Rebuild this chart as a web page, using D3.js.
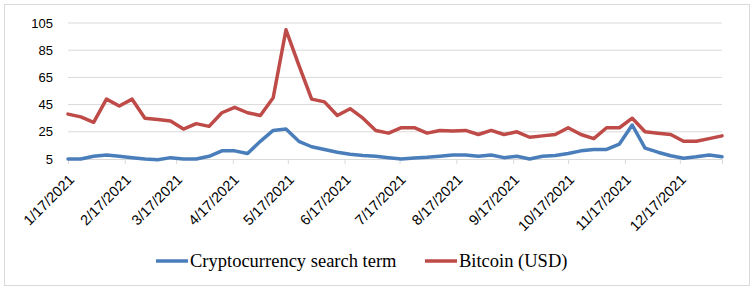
<!DOCTYPE html>
<html>
<head>
<meta charset="utf-8">
<script src="https://cdn.jsdelivr.net/npm/d3@7"></script>
<style>
  body { margin: 0; background: #fff; }
  svg { display: block; }
</style>
</head>
<body>
<svg class="canvas" width="754" height="289"></svg>
<script>
// weekly observations (Sundays)
const weeks = [
  "2021-01-17", "2021-01-24", "2021-01-31", "2021-02-07", "2021-02-14", "2021-02-21", "2021-02-28",
  "2021-03-07", "2021-03-14", "2021-03-21", "2021-03-28", "2021-04-04", "2021-04-11", "2021-04-18",
  "2021-04-25", "2021-05-02", "2021-05-09", "2021-05-16", "2021-05-23", "2021-05-30", "2021-06-06",
  "2021-06-13", "2021-06-20", "2021-06-27", "2021-07-04", "2021-07-11", "2021-07-18", "2021-07-25",
  "2021-08-01", "2021-08-08", "2021-08-15", "2021-08-22", "2021-08-29", "2021-09-05", "2021-09-12",
  "2021-09-19", "2021-09-26", "2021-10-03", "2021-10-10", "2021-10-17", "2021-10-24", "2021-10-31",
  "2021-11-07", "2021-11-14", "2021-11-21", "2021-11-28", "2021-12-05", "2021-12-12", "2021-12-19",
  "2021-12-26", "2022-01-02", "2022-01-09"
];

const searchTerm = [
  5, 5, 7, 8, 7, 6, 5, 4.5, 6, 5, 5, 7, 11, 11, 9, 18, 26, 27, 18, 14,
  12, 10, 8.5, 7.5, 7, 6, 5, 5.7, 6.2, 7, 8, 8, 7, 8, 6, 7, 5, 7, 7.5, 9,
  11, 12, 12, 16, 30, 13, 10, 7.4, 5.5, 6.6, 8, 6.6
];

const bitcoin = [
  38, 36, 32, 49, 44, 49, 35, 34, 33, 27, 31, 29, 39, 43, 39, 37, 50, 100, 74, 49,
  47, 37, 42, 35, 26, 24, 28, 28, 24, 26, 25.5, 26, 23, 26, 23, 25, 21, 22, 23, 28,
  23, 20, 28, 28, 35, 25, 24, 23, 18, 18, 20, 22
];

const yTicks = [5, 25, 45, 65, 85, 105];
const monthTicks = [
  "2021-01-17", "2021-02-17", "2021-03-17", "2021-04-17", "2021-05-17", "2021-06-17",
  "2021-07-17", "2021-08-17", "2021-09-17", "2021-10-17", "2021-11-17", "2021-12-17"
];

const seriesNames = ["Cryptocurrency search term", "Bitcoin (USD)"];
const seriesColors = ["#4a7ebb", "#be4b48"];

const parse = d3.timeParse("%Y-%m-%d");
const fmt = d3.timeFormat("%-m/%-d/%Y");

function render() {
  const svg = d3.select(".canvas");
  const width = 754, height = 289;
  const left = 68, right = 722, top = 23, bottom = 159;

  svg.append("rect")
    .attr("x", 4.5).attr("y", 4.5)
    .attr("width", width - 9).attr("height", height - 8)
    .attr("fill", "#fff").attr("stroke", "#d9d9d9");

  const dates = weeks.map(parse);
  const x = d3.scaleTime().domain([dates[0], dates[dates.length - 1]]).range([left, right]);
  const y = d3.scaleLinear().domain([5, 105]).range([bottom, top]);

  // horizontal gridlines
  svg.append("g")
    .selectAll("line")
    .data(yTicks.slice(1))
    .join("line")
    .attr("x1", left).attr("x2", right)
    .attr("y1", d => y(d)).attr("y2", d => y(d))
    .attr("stroke", "#d9d9d9").attr("stroke-width", 1);

  // y labels
  svg.append("g")
    .selectAll("text")
    .data(yTicks)
    .join("text")
    .attr("x", 53)
    .attr("y", d => y(d))
    .attr("dy", "0.35em")
    .attr("text-anchor", "end")
    .attr("font-family", "Liberation Sans, Arial, sans-serif")
    .attr("font-size", 13)
    .attr("fill", "#000")
    .text(d => d);

  // x axis
  const xAxis = d3.axisBottom(x)
    .tickValues(monthTicks.map(parse))
    .tickSize(5)
    .tickFormat(fmt);
  const gx = svg.append("g")
    .attr("transform", `translate(0,${bottom})`)
    .call(xAxis);
  gx.select(".domain").attr("stroke", "#d9d9d9");
  gx.selectAll(".tick line").attr("stroke", "#d9d9d9");
  gx.selectAll(".tick text")
    .attr("font-family", "Liberation Sans, Arial, sans-serif")
    .attr("font-size", 14.5)
    .attr("fill", "#000")
    .attr("text-anchor", "end")
    .attr("x", 0).attr("y", 0).attr("dy", "0.35em")
    .attr("transform", "translate(3,18) rotate(-45)");

  // lines
  const line = d3.line()
    .x((d, i) => x(dates[i]))
    .y(d => y(d));

  [searchTerm, bitcoin].forEach((vals, k) => {
    svg.append("path")
      .datum(vals)
      .attr("d", line)
      .attr("fill", "none")
      .attr("stroke", seriesColors[k])
      .attr("stroke-width", 3.5)
      .attr("stroke-linejoin", "round")
      .attr("stroke-linecap", "round");
  });

  // legend
  const legendX = [156, 425];
  const legend = svg.append("g");
  seriesNames.forEach((name, k) => {
    legend.append("line")
      .attr("x1", legendX[k]).attr("x2", legendX[k] + 32)
      .attr("y1", 261).attr("y2", 261)
      .attr("stroke", seriesColors[k]).attr("stroke-width", 3.5);
    legend.append("text")
      .attr("x", legendX[k] + 34).attr("y", 261)
      .attr("dy", "0.33em")
      .attr("font-family", "Liberation Serif, Times New Roman, serif")
      .attr("font-size", 18.5)
      .attr("fill", "#000")
      .text(name);
  });
}

window.onload = render;
</script>
</body>
</html>
